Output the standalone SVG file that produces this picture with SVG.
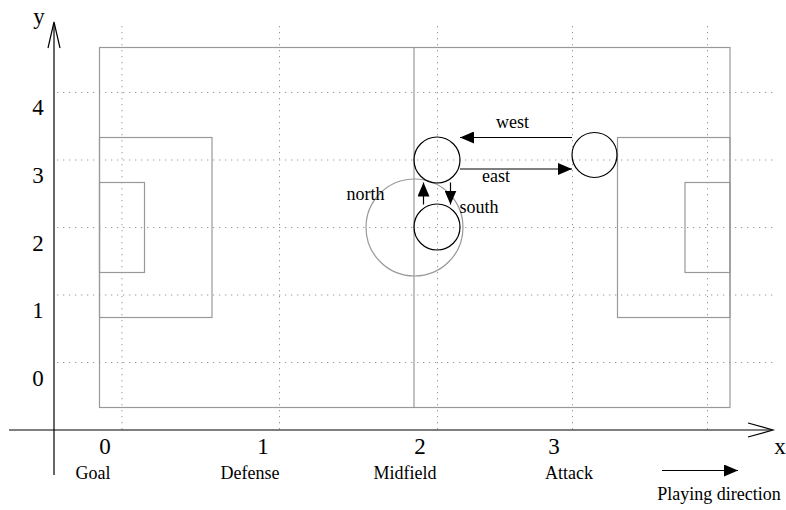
<svg xmlns="http://www.w3.org/2000/svg" width="786" height="510" viewBox="0 0 786 510">
<style>
text{font-family:"Liberation Serif","Times New Roman",serif;fill:#000}
.num{font-size:23px;text-anchor:middle}
.lbl{font-size:18px;text-anchor:middle}
.pitch{fill:none;stroke:#999;stroke-width:1.2}
.grid{fill:none;stroke:#999;stroke-width:1;stroke-dasharray:1.3 4.7}
.axis{fill:none;stroke:#000;stroke-width:1.2}
.player{fill:none;stroke:#000;stroke-width:1.2}
.arrow{fill:none;stroke:#000;stroke-width:1.2}
</style>
<defs>
<marker id="ah" viewBox="0 0 14 12" refX="14" refY="6" markerWidth="14" markerHeight="12" markerUnits="userSpaceOnUse" orient="auto">
<path d="M0,0 L14,6 L0,12 Z" fill="#000"/>
</marker>
</defs>
<g id="grid">
<line class="grid" x1="57" y1="92.5" x2="773" y2="92.5"/>
<line class="grid" x1="57" y1="160" x2="773" y2="160"/>
<line class="grid" x1="57" y1="227.5" x2="773" y2="227.5"/>
<line class="grid" x1="57" y1="295" x2="773" y2="295"/>
<line class="grid" x1="57" y1="362.5" x2="773" y2="362.5"/>
<line class="grid" x1="122" y1="26" x2="122" y2="430"/>
<line class="grid" x1="279.5" y1="26" x2="279.5" y2="430"/>
<line class="grid" x1="437.5" y1="26" x2="437.5" y2="430"/>
<line class="grid" x1="572.5" y1="26" x2="572.5" y2="430"/>
<line class="grid" x1="707.5" y1="26" x2="707.5" y2="430"/>
</g>
<g id="pitch">
<rect class="pitch" x="99.5" y="47.5" width="630.5" height="360"/>
<line class="pitch" x1="414" y1="47.5" x2="414" y2="407.5"/>
<circle class="pitch" cx="414.5" cy="227.5" r="48.5"/>
<rect class="pitch" x="99.5" y="137.5" width="112.5" height="180"/>
<rect class="pitch" x="99.5" y="182.5" width="45" height="90"/>
<rect class="pitch" x="617.5" y="137.5" width="112.5" height="180"/>
<rect class="pitch" x="685" y="182.5" width="45" height="90"/>
</g>
<g id="axes">
<line class="axis" x1="54" y1="475" x2="54" y2="23"/>
<polyline class="axis" points="48,48 54,22 60,48"/>
<line class="axis" x1="9" y1="430" x2="772" y2="430"/>
<polyline class="axis" points="748,423 773,430 748,437"/>
<text x="39" y="24" class="num">y</text>
<text x="780" y="454" class="num">x</text>
<text x="38" y="115" class="num">4</text>
<text x="38" y="183" class="num">3</text>
<text x="38" y="251" class="num">2</text>
<text x="38" y="318" class="num">1</text>
<text x="38" y="386" class="num">0</text>
<text x="105" y="454" class="num">0</text>
<text x="263" y="454" class="num">1</text>
<text x="420" y="454" class="num">2</text>
<text x="554" y="454" class="num">3</text>
<text x="93" y="479" class="lbl">Goal</text>
<text x="250" y="479" class="lbl">Defense</text>
<text x="405" y="479" class="lbl">Midfield</text>
<text x="569" y="479" class="lbl">Attack</text>
<text x="719" y="500" class="lbl">Playing direction</text>
</g>
<g id="players">
<g id="player-a"><circle class="player" cx="437" cy="160" r="23"/></g>
<g id="player-b"><circle class="player" cx="437" cy="227" r="23"/></g>
<g id="player-c"><circle class="player" cx="594.5" cy="155" r="22.5"/></g>
</g>
<g id="connectors">
<line class="arrow" x1="572" y1="137.5" x2="460" y2="137.5" marker-end="url(#ah)"/>
<line class="arrow" x1="460" y1="169" x2="572" y2="169" marker-end="url(#ah)"/>
<line class="arrow" x1="423.5" y1="204.5" x2="423.5" y2="182.5" marker-end="url(#ah)"/>
<line class="arrow" x1="450.5" y1="182.5" x2="450.5" y2="204.5" marker-end="url(#ah)"/>
<line class="arrow" x1="662" y1="470.5" x2="738" y2="470.5" marker-end="url(#ah)"/>
<text x="512.5" y="128" class="lbl">west</text>
<text x="496" y="182" class="lbl">east</text>
<text x="365.5" y="200" class="lbl">north</text>
<text x="479" y="213" class="lbl">south</text>
</g>
</svg>
